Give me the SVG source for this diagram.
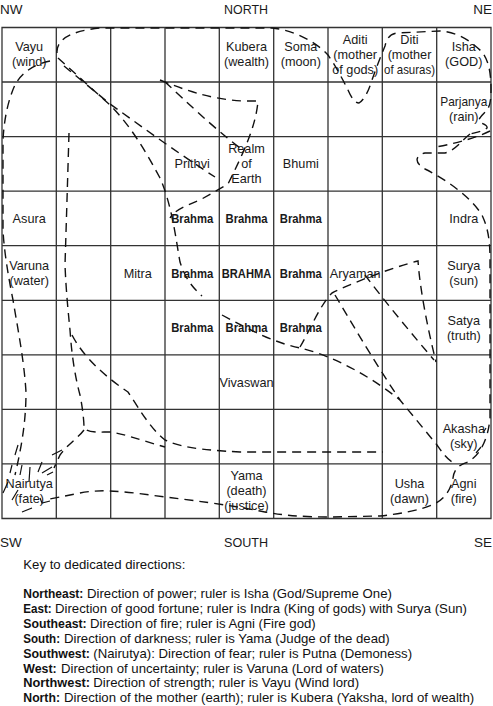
<svg xmlns="http://www.w3.org/2000/svg" width="493" height="706" viewBox="0 0 493 706">
<style>
.g{fill:none;stroke:#333;stroke-width:1.3}
.d{fill:none;stroke:#111;stroke-width:1.4;stroke-dasharray:9 6}
.s{fill:none;stroke:#111;stroke-width:1.2}
text{font-family:"Liberation Sans",Arial,sans-serif;fill:#1a1a1a}
.t{font-size:12.7px;text-anchor:middle}
.b{font-weight:bold}
.dir{font-size:13.5px}
.k{font-size:13.2px;fill:#111}
.kb{font-size:13.2px;font-weight:bold;fill:#111}
</style>
<rect width="493" height="706" fill="#fff"/>
<g id="grid">
<path class="g" d="M2,27.5H491V518.5H2Z M56.3,27.5V518.5 M110.7,27.5V518.5 M165,27.5V518.5 M219.3,27.5V518.5 M273.7,27.5V518.5 M328,27.5V518.5 M382.3,27.5V518.5 M436.7,27.5V518.5 M2,82H491 M2,136.6H491 M2,191.2H491 M2,245.7H491 M2,300.3H491 M2,354.8H491 M2,409.4H491 M2,463.9H491"/>
</g>
<g id="directions" class="dir">
<text x="0" y="14">NW</text>
<text x="246" y="14" text-anchor="middle" textLength="44" lengthAdjust="spacingAndGlyphs">NORTH</text>
<text x="492" y="14" text-anchor="end">NE</text>
<text x="0" y="547">SW</text>
<text x="246" y="547" text-anchor="middle" textLength="44" lengthAdjust="spacingAndGlyphs">SOUTH</text>
<text x="492" y="547" text-anchor="end">SE</text>
</g>
<g id="connectors">
<path class="d" d="M57,53 C56,40 70,31 100,28 L272,28 C292,30 314,40 328,55 C335,65 342,78 348,90 C352,99 355,103 359,103 C364,100 368,92 371,83 C376,68 381,56 385,46 C387,38 390,34 397,33 L440,31 C458,32 472,42 482,52 C488,60 491,70 491,90 C491,100 490,106 487,110 C484,114 478,118 479,122 C483,124 488,125 487,128 C484,131 478,132 470,134"/>
<path class="d" d="M490,131 C478,137 458,143 436,147"/>
<path class="d" d="M470,134 C462,140 456,150 445,153 L425,153 C415,155 414,163 425,169 C445,179 470,196 482,215 C488,228 490,240 490,260 L490,418 C488,440 480,455 468,462 C458,465 454,470 453,478 C451,490 444,500 432,505 C420,510 400,514 380,516 L330,517 C300,517 280,515 260,511 C230,505 190,500 150,495 C120,491 100,489 80,493 C65,496 55,498 45,500"/>
<path class="d" d="M50,61 C35,64 22,72 15,85 C8,100 4,120 3,140 L3,230 C4,250 8,275 13,300 C18,330 24,360 26,392 C26,420 22,445 15,475"/>
<path class="d" d="M58,58 L110,105 C130,125 145,150 160,178 C172,205 176,240 180,262 C185,278 192,287 202,296"/>
<path class="d" d="M64,66 L110,104 C130,118 170,148 215,177"/>
<path class="d" d="M160,80 C180,88 210,100 245,101 L258,101 C256,125 245,150 228,184 L200,200 C185,206 175,210 170,218"/>
<path class="d" d="M165,82 C185,100 210,125 240,148"/>
<path class="d" d="M69,133 L67,200 L65,265 C66,290 68,310 70,330 C72,360 76,380 80,395 C83,410 84,422 84,428 C88,433 100,432 110,432 C125,434 140,440 165,447"/>
<path class="d" d="M84,430 C78,438 68,444 60,455 L54,468"/>
<path class="d" d="M72,335 C85,360 110,380 128,392 C140,410 150,428 165,440 C180,447 200,450 240,452 L383,452"/>
<path class="d" d="M222,315 C250,330 275,343 300,348 C320,352 360,368 400,400 L437,445 C442,452 446,458 452,462"/>
<path class="d" d="M300,347 C310,330 320,305 332,293 C350,284 390,268 418,261 C420,290 428,330 436,362"/>
<path class="d" d="M365,275 C380,295 400,320 434,360"/>
<path class="d" d="M335,295 C350,320 370,355 400,400"/>
<path class="s" d="M18,445 L15,455 M12,465 L10,473 M30,467 L29,482 M22,465 L20,475 M42,462 L38,472 M52,467 L42,473 M53,472 L47,475 M62,450 L52,455 M8,482 L3,493 M18,490 L12,500 M32,508 L22,512 M40,498 L42,503 L50,501 M486,428 L483,433 M481,447 L476,453"/>
</g>
<g class="t">
<g id="vayu"><text x="29.2" y="51.3">Vayu</text><text x="29.2" y="66.3">(wind)</text></g>
<g id="kubera"><text x="246.5" y="51.3">Kubera</text><text x="246.5" y="66.3">(wealth)</text></g>
<g id="soma"><text x="300.8" y="51.3">Soma</text><text x="300.8" y="66.3">(moon)</text></g>
<g id="aditi"><text x="355.2" y="43.8">Aditi</text><text x="355.2" y="58.8">(mother</text><text x="355.2" y="73.8">of gods)</text></g>
<g id="diti"><text x="409.5" y="43.8">Diti</text><text x="409.5" y="58.8">(mother</text><text x="409.5" y="73.8" textLength="51" lengthAdjust="spacingAndGlyphs">of asuras)</text></g>
<g id="isha"><text x="463.8" y="51.3">Isha</text><text x="463.8" y="66.3">(GOD)</text></g>
<g id="parjanya"><text x="463.8" y="105.8" textLength="47" lengthAdjust="spacingAndGlyphs">Parjanya</text><text x="463.8" y="120.8">(rain)</text></g>
<g id="prithvi"><text x="192.2" y="168.4">Prithvi</text></g>
<g id="realm"><text x="246.5" y="152.9">Realm</text><text x="246.5" y="167.9">of</text><text x="246.5" y="182.9">Earth</text></g>
<g id="bhumi"><text x="300.8" y="168.4">Bhumi</text></g>
<g id="asura"><text x="29.2" y="222.9">Asura</text></g>
<g id="brahma-3-3"><text class="b" x="192.2" y="222.9" textLength="42" lengthAdjust="spacingAndGlyphs">Brahma</text></g>
<g id="brahma-3-4"><text class="b" x="246.5" y="222.9" textLength="42" lengthAdjust="spacingAndGlyphs">Brahma</text></g>
<g id="brahma-3-5"><text class="b" x="300.8" y="222.9" textLength="42" lengthAdjust="spacingAndGlyphs">Brahma</text></g>
<g id="indra"><text x="463.8" y="222.9">Indra</text></g>
<g id="varuna"><text x="29.2" y="269.5">Varuna</text><text x="29.2" y="284.5">(water)</text></g>
<g id="mitra"><text x="137.8" y="277.5">Mitra</text></g>
<g id="brahma-4-3"><text class="b" x="192.2" y="277.5" textLength="42" lengthAdjust="spacingAndGlyphs">Brahma</text></g>
<g id="brahma-center"><text class="b" x="246.5" y="277.5" textLength="49.5" lengthAdjust="spacingAndGlyphs">BRAHMA</text></g>
<g id="brahma-4-5"><text class="b" x="300.8" y="277.5" textLength="42" lengthAdjust="spacingAndGlyphs">Brahma</text></g>
<g id="aryaman"><text x="355.2" y="277.5">Aryaman</text></g>
<g id="surya"><text x="463.8" y="269.5">Surya</text><text x="463.8" y="284.5">(sun)</text></g>
<g id="brahma-5-3"><text class="b" x="192.2" y="332" textLength="42" lengthAdjust="spacingAndGlyphs">Brahma</text></g>
<g id="brahma-5-4"><text class="b" x="246.5" y="332" textLength="42" lengthAdjust="spacingAndGlyphs">Brahma</text></g>
<g id="brahma-5-5"><text class="b" x="300.8" y="332" textLength="42" lengthAdjust="spacingAndGlyphs">Brahma</text></g>
<g id="satya"><text x="463.8" y="324.5">Satya</text><text x="463.8" y="339.5">(truth)</text></g>
<g id="vivaswan"><text x="246.5" y="386.6">Vivaswan</text></g>
<g id="akasha"><text x="463.8" y="433.1">Akasha</text><text x="463.8" y="448.1">(sky)</text></g>
<g id="nairutya"><text x="29.2" y="487.7">Nairutya</text><text x="29.2" y="502.7">(fate)</text></g>
<g id="yama"><text x="246.5" y="480.2">Yama</text><text x="246.5" y="495.2">(death)</text><text x="246.5" y="510.2">(justice)</text></g>
<g id="usha"><text x="409.5" y="487.7">Usha</text><text x="409.5" y="502.7">(dawn)</text></g>
<g id="agni"><text x="463.8" y="487.7">Agni</text><text x="463.8" y="502.7">(fire)</text></g>
</g>
<g id="key">
<text class="k" x="23.3" y="569">Key to dedicated directions:</text>
<text class="kb" x="23.3" y="598" textLength="60" lengthAdjust="spacingAndGlyphs">Northeast:</text><text class="k" x="87" y="598">Direction of power; ruler is Isha (God/Supreme One)</text>
<text class="kb" x="23.3" y="612.9" textLength="28.4" lengthAdjust="spacingAndGlyphs">East:</text><text class="k" x="55" y="612.9">Direction of good fortune; ruler is Indra (King of gods) with Surya (Sun)</text>
<text class="kb" x="23.3" y="627.8" textLength="63.4" lengthAdjust="spacingAndGlyphs">Southeast:</text><text class="k" x="90" y="627.8">Direction of fire; ruler is Agni (Fire god)</text>
<text class="kb" x="23.3" y="642.7" textLength="36.7" lengthAdjust="spacingAndGlyphs">South:</text><text class="k" x="64" y="642.7">Direction of darkness; ruler is Yama (Judge of the dead)</text>
<text class="kb" x="23.3" y="657.6" textLength="66.7" lengthAdjust="spacingAndGlyphs">Southwest:</text><text class="k" x="93.3" y="657.6">(Nairutya): Direction of fear; ruler is Putna (Demoness)</text>
<text class="kb" x="23.3" y="672.5" textLength="33.4" lengthAdjust="spacingAndGlyphs">West:</text><text class="k" x="61" y="672.5">Direction of uncertainty; ruler is Varuna (Lord of waters)</text>
<text class="kb" x="23.3" y="687.4" textLength="66.7" lengthAdjust="spacingAndGlyphs">Northwest:</text><text class="k" x="93.3" y="687.4">Direction of strength; ruler is Vayu (Wind lord)</text>
<text class="kb" x="23.3" y="702.3" textLength="36.7" lengthAdjust="spacingAndGlyphs">North:</text><text class="k" x="64" y="702.3">Direction of the mother (earth); ruler is Kubera (Yaksha, lord of wealth)</text>
</g>
</svg>
